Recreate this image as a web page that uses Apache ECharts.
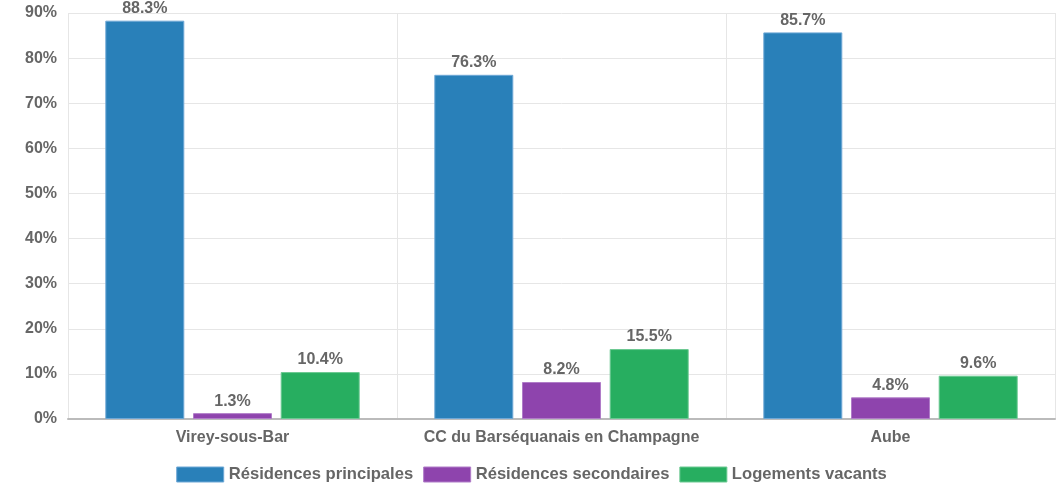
<!DOCTYPE html>
<html>
<head>
<meta charset="utf-8">
<script src="https://cdn.jsdelivr.net/npm/echarts@6/dist/echarts.min.js"></script>
<style>
  html, body { margin: 0; padding: 0; background: #fff; }
  #chart { width: 1063px; height: 485px; }
</style>
</head>
<body>
<div id="chart"></div>
<script>
// Répartition des logements par type d'occupation
const categories = ['Virey-sous-Bar', 'CC du Barséquanais en Champagne', 'Aube'];
const residencesPrincipales = [88.3, 76.3, 85.7];
const residencesSecondaires = [1.3, 8.2, 4.8];
const logementsVacants = [10.4, 15.5, 9.6];
const seriesNames = ['Résidences principales', 'Résidences secondaires', 'Logements vacants'];
const seriesColors = ['#2980b9', '#8e44ad', '#27ae60'];
const borderColors = ['#6fa8d6', '#b07cc8', '#6cc992'];

const font = 'Liberation Sans, Arial, sans-serif';
const chart = echarts.init(document.getElementById('chart'));

function makeSeries(name, data, i) {
  return {
    name: name,
    type: 'bar',
    data: data,
    barWidth: 79,
    barGap: '11%',
    itemStyle: { color: seriesColors[i], borderColor: borderColors[i], borderWidth: 1 },
    label: {
      show: true,
      position: 'top',
      distance: 4,
      formatter: p => p.value.toFixed(1) + '%',
      color: '#666',
      fontFamily: font,
      fontWeight: 'bold',
      fontSize: 16
    }
  };
}

chart.setOption({
  animation: false,
  textStyle: { fontFamily: font },
  grid: { left: 68, right: 8, top: 13, bottom: 66, containLabel: false },
  legend: {
    bottom: -3,
    left: 'center',
    itemWidth: 47,
    itemHeight: 15,
    itemGap: 10,
    icon: 'rect',
    data: seriesNames,
    textStyle: { color: '#666', fontSize: 16.6, fontWeight: 'bold', fontFamily: font },
    itemStyle: { borderWidth: 1 }
  },
  xAxis: {
    type: 'category',
    data: categories,
    axisLine: { lineStyle: { color: '#bbb', width: 2 } },
    axisTick: { show: false },
    splitLine: { show: true, lineStyle: { color: '#e6e6e6' } },
    axisLabel: { interval: 0, color: '#666', fontWeight: 'bold', fontSize: 16, fontFamily: font, margin: 11 }
  },
  yAxis: {
    type: 'value',
    min: 0,
    max: 90,
    interval: 10,
    axisLine: { show: false },
    axisTick: { show: false },
    splitLine: { lineStyle: { color: '#e6e6e6' } },
    axisLabel: { formatter: '{value}%', color: '#666', fontWeight: 'bold', fontSize: 16, fontFamily: font, margin: 11 }
  },
  series: [
    makeSeries(seriesNames[0], residencesPrincipales, 0),
    makeSeries(seriesNames[1], residencesSecondaires, 1),
    makeSeries(seriesNames[2], logementsVacants, 2)
  ]
});
</script>
</body>
</html>
